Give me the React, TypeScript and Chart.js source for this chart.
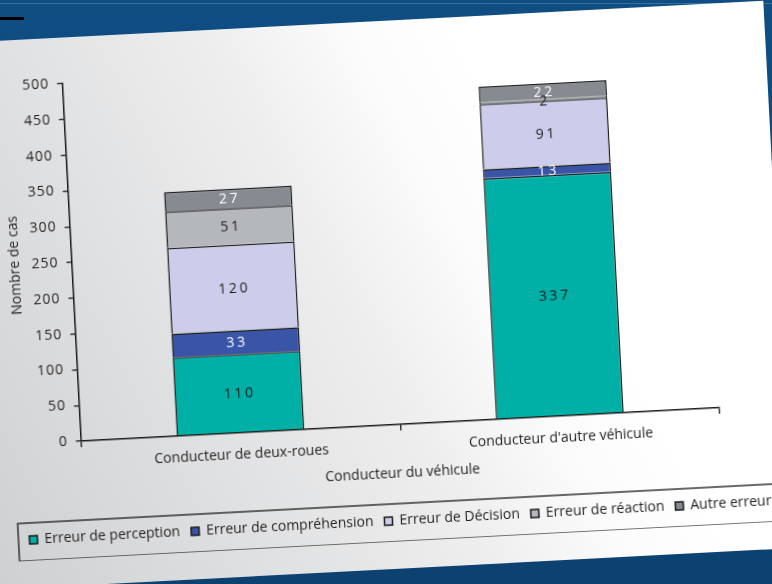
import React, { useEffect, useRef } from "react";
import { Chart, registerables } from "chart.js";

Chart.register(...registerables);

// ---- data ----
const categories = ["Conducteur de deux-roues", "Conducteur d'autre véhicule"];
const seriesNames = [
  "Erreur de perception",
  "Erreur de compréhension",
  "Erreur de Décision",
  "Erreur de réaction",
  "Autre erreur",
];
const perception = [110, 337];
const comprehension = [33, 13];
const decision = [120, 91];
const reaction = [51, 2];
const autre = [27, 22];
const yMin = 0;
const yMax = 500;
const yStep = 50;
const xTitle = "Conducteur du véhicule";
const yTitle = "Nombre de cas";

// ---- styles ----
const FONT = "'Open Sans', 'DejaVu Sans', sans-serif";
const TEXT = "#231f20";
const LINE = "#1a1a1a";
const fills = ["#00afa5", "#3a55a7", "#cbcdea", "#b4b7bc", "#868b91"];
const labelColors = ["#1e1e1e", "#ffffff", "#1e1e1e", "#1e1e1e", "#ffffff"];
const CANVAS_W = 810;
const CANVAS_H = 512;

const valueLabels = {
  id: "valueLabels",
  afterDatasetsDraw(chart: any) {
    const ctx = chart.ctx;
    ctx.save();
    ctx.font = `14px ${FONT}`;
    ctx.textAlign = "center";
    ctx.textBaseline = "middle";
    (ctx as any).letterSpacing = "2.5px";
    chart.data.datasets.forEach((ds: any, i: number) => {
      const meta = chart.getDatasetMeta(i);
      meta.data.forEach((el: any, j: number) => {
        const p = el.getProps(["x", "y", "base"], true);
        ctx.fillStyle = labelColors[i];
        ctx.fillText(String(ds.data[j]), p.x + 1.25, (p.y + p.base) / 2 + 1);
      });
    });
    ctx.restore();
  },
};

const tickSpacing = {
  id: "tickSpacing",
  beforeDraw(chart: any) {
    const ys: any = chart.scales.y;
    if (ys && !ys.__patched) {
      const orig = ys.drawLabels.bind(ys);
      ys.drawLabels = (area: any) => {
        ys.ctx.save();
        ys.ctx.letterSpacing = "1px";
        orig(area);
        ys.ctx.restore();
      };
      ys.__patched = true;
    }
  },
};

const legendBox = {
  id: "legendBox",
  afterDraw(chart: any) {
    const lg: any = chart.legend;
    const hb = lg && lg.legendHitBoxes;
    if (!hb || !hb.length) return;
    const cy = hb[0].top + hb[0].height / 2;
    const ctx = chart.ctx;
    ctx.save();
    ctx.strokeStyle = LINE;
    ctx.lineWidth = 1.3;
    ctx.strokeRect(6, cy - 17, chart.width + 20, 38);
    ctx.restore();
  },
};

export default function App() {
  const ref = useRef<HTMLCanvasElement>(null);

  useEffect(() => {
    const series = [perception, comprehension, decision, reaction, autre];
    const chart = new Chart(ref.current as HTMLCanvasElement, {
      type: "bar",
      data: {
        labels: categories,
        datasets: series.map((d, i) => ({
          label: seriesNames[i],
          data: d,
          backgroundColor: fills[i],
          borderColor: LINE,
          borderWidth: 1.5,
          categoryPercentage: 0.8,
          barPercentage: 0.5,
        })),
      },
      options: {
        responsive: false,
        animation: false,
        layout: { padding: { left: 6, right: 0, top: 37, bottom: 4 } },
        plugins: {
          legend: {
            position: "bottom",
            align: "start",
            labels: {
              boxWidth: 8,
              boxHeight: 8,
              padding: 11,
              color: TEXT,
              font: { family: FONT, size: 14 },
            },
          },
          tooltip: { enabled: false },
        },
        scales: {
          x: {
            stacked: true,
            grid: {
              offset: true,
              drawOnChartArea: false,
              drawTicks: true,
              tickLength: 6,
              color: LINE,
              lineWidth: 1.3,
            },
            border: { color: LINE, width: 1.5 },
            ticks: { color: TEXT, font: { family: FONT, size: 14 }, padding: 8 },
            title: {
              display: true,
              text: xTitle,
              color: TEXT,
              font: { family: FONT, size: 14 },
              padding: { top: 2, bottom: 21 },
            },
            afterFit(s: any) {
              s.height = 78;
            },
          },
          y: {
            stacked: true,
            min: yMin,
            max: yMax,
            ticks: {
              stepSize: yStep,
              color: TEXT,
              font: { family: FONT, size: 14 },
              padding: 8,
            },
            grid: {
              drawOnChartArea: false,
              drawTicks: true,
              tickLength: 5,
              color: LINE,
              lineWidth: 1.3,
            },
            border: { color: LINE, width: 1.5 },
            title: {
              display: true,
              text: yTitle,
              color: TEXT,
              font: { family: FONT, size: 14 },
              padding: { top: 3, bottom: 0 },
            },
            afterFit(s: any) {
              s.width = 67.5;
            },
          },
          spacer: {
            type: "linear",
            position: "right",
            display: true,
            grid: { display: false, drawTicks: false },
            border: { display: false },
            ticks: { display: false },
            afterFit(s: any) {
              s.width = CANVAS_W - 713;
            },
          },
        },
      } as any,
      plugins: [valueLabels, tickSpacing, legendBox],
    });
    return () => chart.destroy();
  }, []);

  return (
    <div
      style={{
        position: "fixed",
        left: 0,
        top: 0,
        width: 772,
        height: 584,
        overflow: "hidden",
        background: "linear-gradient(180deg, #0f4d82 0%, #0e4a7c 60%, #0c4170 100%)",
      }}
    >
      <div style={{ position: "absolute", left: 0, top: 3, width: 772, height: 1, background: "rgba(110,150,195,0.45)" }} />
      <div style={{ position: "absolute", left: 0, top: 17, width: 24, height: 3, background: "#000" }} />
      <div
        style={{
          position: "absolute",
          left: 0,
          top: 0,
          width: 772,
          height: 584,
          transform: "rotate(-3deg)",
          transformOrigin: "386px 292px",
        }}
      >
        <div
          style={{
            position: "absolute",
            left: -80,
            top: 20.5,
            width: 858,
            height: 548,
            background:
              "linear-gradient(65deg, #cbccce 0%, #dfe0e1 30%, #eeeeef 50%, #fbfbfb 62%, #ffffff 72%)",
          }}
        />
        <div style={{ position: "absolute", left: 0, top: 30, width: 778, height: CANVAS_H, overflow: "hidden" }}>
          <canvas
            ref={ref}
            width={CANVAS_W}
            height={CANVAS_H}
            style={{ position: "absolute", left: 0, top: 0, width: CANVAS_W, height: CANVAS_H }}
          />
        </div>
      </div>
    </div>
  );
}
